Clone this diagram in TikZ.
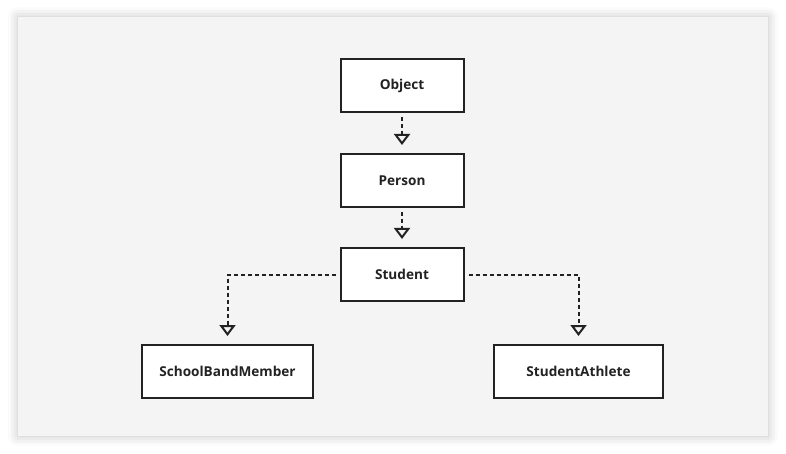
\documentclass[tikz,border=0pt]{standalone}
\usepackage{fontspec}
\setmainfont{Open Sans}
\usetikzlibrary{positioning}
\usetikzlibrary{arrows.meta}
\usetikzlibrary{shadows.blur}

\definecolor{panelgray}{HTML}{F4F4F4}
\definecolor{inkgray}{HTML}{222222}

\tikzset{
    classbox/.style={draw=inkgray, fill=white, line width=2pt, minimum height=53pt, text=inkgray, font=\fontsize{13.6}{16}\selectfont\bfseries},
    inherits/.style={draw=inkgray, line width=2pt, dash pattern=on 4pt off 3pt, shorten <=4pt, shorten >=8pt, -{Triangle[open, width=16pt, length=11pt, line width=2pt]}}
}

\begin{document}
\begin{tikzpicture}[x=1pt, y=1pt]

    \useasboundingbox (0,0) rectangle (786,-454);
    \fill[panelgray, blur shadow={shadow xshift=0pt, shadow yshift=0pt, shadow blur radius=10pt, shadow opacity=25}] (18,-17) rectangle (768,-436);

    \node(Object)[classbox, minimum width=123pt] at (402,-85.5){Object};
    \node(Person)[classbox, minimum width=123pt, below=40pt of Object]{Person};
    \node(Student)[classbox, minimum width=123pt, below=39pt of Person]{Student};

    \node(SchoolBandMember)[classbox, minimum width=171pt] at (227.5,-371.5){SchoolBandMember};
    \node(StudentAthlete)[classbox, minimum width=169pt] at (578.5,-371.5){StudentAthlete};

    \draw[inherits] (Object) -- (Person);
    \draw[inherits] (Person) -- (Student);
    \draw[inherits] (Student.west) -| (SchoolBandMember.north);
    \draw[inherits] (Student.east) -| (StudentAthlete.north);

\end{tikzpicture}
\end{document}
